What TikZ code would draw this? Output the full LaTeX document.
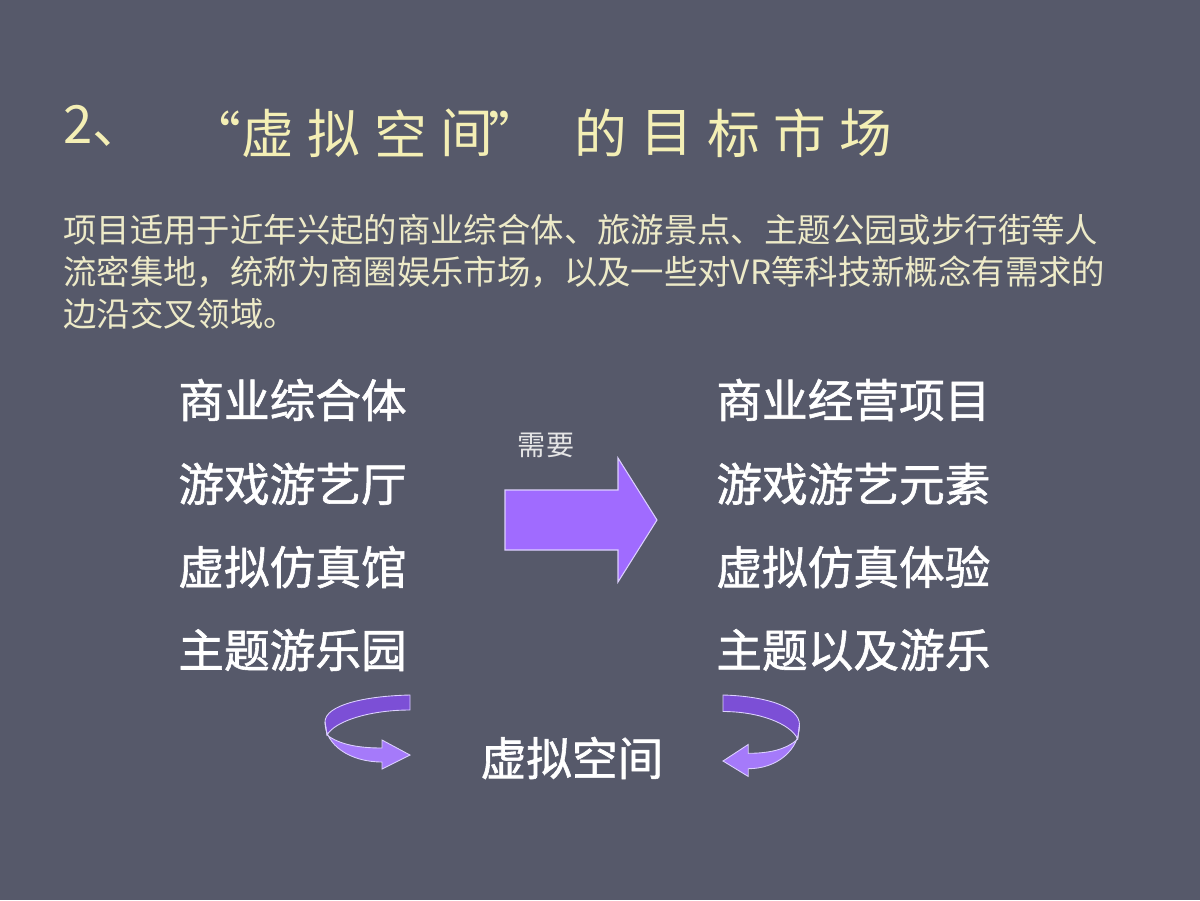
\documentclass[tikz,border=0pt]{standalone}
\usepackage{fontspec}
\newfontfamily\cjk{Noto Sans CJK SC}
\newfontfamily\cjkmid[FakeBold=1.3]{Noto Sans CJK SC}
\definecolor{bg}{HTML}{56596A}
\definecolor{titlecol}{HTML}{F4EFB5}
\definecolor{bodycol}{HTML}{EDEAC8}
\definecolor{arrowfill}{HTML}{A06BFF}
\definecolor{bandback}{HTML}{7C4FD6}
\definecolor{bandfront}{HTML}{A57AFA}
\definecolor{bandedge}{HTML}{DCD0FF}
\tikzset{
  titlechar/.style={inner sep=0pt, text=titlecol, font=\cjk\fontsize{30}{36}\selectfont},
  bodytext/.style={inner sep=0pt, text=bodycol, align=left, anchor=west,
    font=\cjk\fontsize{19}{23.8}\selectfont},
  listitem/.style={inner sep=0pt, text=white, anchor=west,
    font=\cjkmid\fontsize{26}{30}\selectfont},
  smalllabel/.style={inner sep=0pt, text=white!90!black, font=\cjk\fontsize{16}{18}\selectfont},
  blockarrow/.style={fill=arrowfill, draw=bandedge, line width=0.6pt, line join=miter},
  backband/.style={fill=bandback, draw=bandedge, line width=0.5pt},
  frontband/.style={fill=bandfront, draw=bandedge, line width=0.5pt, line join=miter},
}
\begin{document}
\begin{tikzpicture}[x=0.02cm, y=-0.02cm]
\fill[bg] (0,0) rectangle (1200,900);
\useasboundingbox (0,0) rectangle (1200,900);

% title
\node[titlechar, anchor=base west] (t0) at (63,143) {2、};
\foreach \c/\x [count=\i] in {“/215,虚/268,拟/334,空/401,间/467,”/515,的/601,目/667,标/734,市/800,场/866}
  \node[titlechar] (t\i) at (\x,133) {\c};

% paragraph
\node[bodytext] (para) at (63,272) {项目适用于近年兴起的商业综合体、旅游景点、主题公园或步行街等人\\
流密集地，统称为商圈娱乐市场，以及一些对VR等科技新概念有需求的\\
边沿交叉领域。};

% left column
\node[listitem] (l1) at (178,400) {商业综合体};
\node[listitem] (l2) at (178,484) {游戏游艺厅};
\node[listitem] (l3) at (178,567) {虚拟仿真馆};
\node[listitem] (l4) at (178,650) {主题游乐园};

% right column
\node[listitem] (r1) at (716,400) {商业经营项目};
\node[listitem] (r2) at (716,484) {游戏游艺元素};
\node[listitem] (r3) at (716,567) {虚拟仿真体验};
\node[listitem] (r4) at (716,650) {主题以及游乐};

% need label and block arrow
\node[smalllabel] (need) at (546,445) {需要};
\draw[blockarrow] (505,490) -- (618,490) -- (618,458) -- (657,520) -- (618,582) -- (618,550) -- (505,550) -- cycle;

% bottom label
\node[listitem, anchor=center] (vs) at (572,758) {虚拟空间};

% curved arrows
\begin{scope}[shift={(410,695)}]
  \draw[backband] (0,0) .. controls (-45,1) and (-85,10) .. (-85,27) -- (-83,40)
     .. controls (-75,26) and (-40,15) .. (0,15) -- cycle;
  \draw[frontband] (-85,27) .. controls (-85,50) and (-60,67) .. (-28,67) -- (-28,74) -- (0,60)
     -- (-28,45) -- (-28,53) .. controls (-50,53) and (-70,50) .. (-83,40) -- cycle;
\end{scope}
\begin{scope}[shift={(723,695)}, xscale=-0.9, yscale=1.1]
  \draw[backband] (0,0) .. controls (-45,1) and (-85,10) .. (-85,27) -- (-83,40)
     .. controls (-75,26) and (-40,15) .. (0,15) -- cycle;
  \draw[frontband] (-85,27) .. controls (-85,50) and (-60,67) .. (-28,67) -- (-28,74) -- (0,60)
     -- (-28,45) -- (-28,53) .. controls (-50,53) and (-70,50) .. (-83,40) -- cycle;
\end{scope}
\end{tikzpicture}
\end{document}
